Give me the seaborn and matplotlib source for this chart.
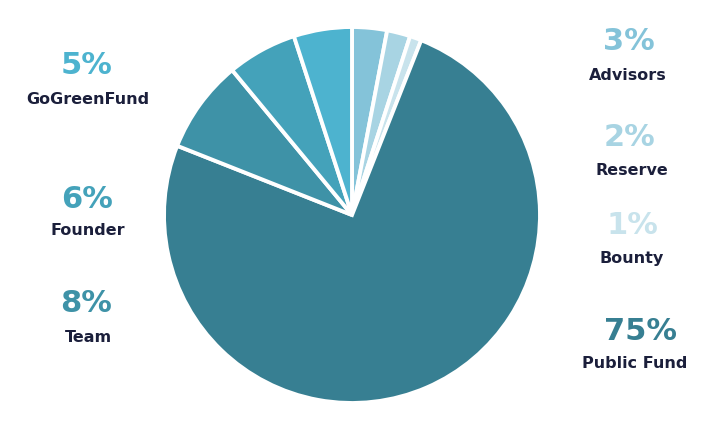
import matplotlib
matplotlib.use("Agg")
import matplotlib.pyplot as plt
import seaborn as sns

sns.set_theme(style="white")
plt.rcParams['font.family'] = ['DejaVu Sans']

categories = ["Advisors", "Reserve", "Bounty", "Public Fund", "Team", "Founder", "GoGreenFund"]
values = [3, 2, 1, 75, 8, 6, 5]
pct_labels = ["3%", "2%", "1%", "75%", "8%", "6%", "5%"]
colors = ["#84C3D9", "#A8D4E3", "#C8E3EC", "#377F92", "#3E92A7", "#44A2BA", "#4DB3CF"]

W, H = 720, 433
fig = plt.figure(figsize=(7.2, 4.33), dpi=100)
fig.patch.set_facecolor("white")

cx, cy, r = 352, 215, 188
ax = fig.add_axes([(cx - r) / W, (H - cy - r) / H, 2 * r / W, 2 * r / H])
ax.pie(values, colors=colors, startangle=90, counterclock=False,
       wedgeprops=dict(edgecolor="white", linewidth=2.8), radius=1.0)
ax.set_xlim(-1.0, 1.0)
ax.set_ylim(-1.0, 1.0)
ax.set_axis_off()

# label positions in pixel coordinates (x pct, x name, y of percentage, y of name)
label_pos = {
    "Advisors": (629, 628, 39, 74),
    "Reserve": (630, 632, 134, 169),
    "Bounty": (632, 632, 222, 257),
    "Public Fund": (640, 635, 329, 362),
    "Team": (86, 88, 301, 336),
    "Founder": (87, 88, 196, 229),
    "GoGreenFund": (87, 88, 63, 98),
}
navy = "#1B1F3B"
for cat, pct, col in zip(categories, pct_labels, colors):
    xp, xn, yp, yn = label_pos[cat]
    fig.text(xp / W, 1 - yp / H, pct, ha="center", va="center_baseline",
             fontsize=22, fontweight="bold", color=col)
    fig.text(xn / W, 1 - yn / H, cat, ha="center", va="center_baseline",
             fontsize=11.5, fontweight="bold", color=navy)

fig.savefig("out.png", dpi=100, facecolor="white")
